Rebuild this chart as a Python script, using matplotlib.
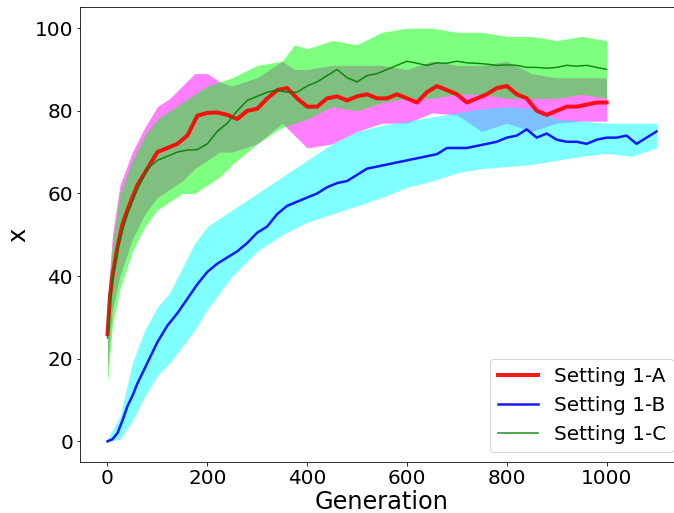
import matplotlib
matplotlib.use("Agg")
import matplotlib.pyplot as plt

gen_ac = [0, 5, 10, 20, 30, 40, 50, 60, 80, 100, 120, 140, 160, 180, 200,
          220, 240, 260, 280, 300, 320, 340, 360, 380, 400, 420, 440, 460,
          480, 500, 520, 540, 560, 580, 600, 620, 640, 660, 680, 700, 720,
          740, 760, 780, 800, 820, 840, 860, 880, 900, 920, 940, 960, 980, 1000]

mean_a = [26, 35, 40, 47, 52.5, 56, 59, 62, 66, 70, 71, 72, 74, 78.8, 79.5,
          79.6, 79, 78, 80, 80.5, 83, 85, 85.5, 83, 81, 81, 83, 83.5,
          82.5, 83.5, 84, 83, 83, 84, 83, 82, 84.5, 86, 85, 84, 82,
          83, 84, 85.5, 86, 84, 83, 80, 79, 80, 81, 81, 81.5, 82, 82]

mean_c = [25, 33, 39, 46, 51, 55, 58, 61, 66, 68, 69, 70, 70.5, 70.6, 72,
          75, 77, 80, 82.5, 83.5, 84.5, 85, 84.5, 84.5, 86, 87, 88.5, 90,
          88, 87, 88.5, 89, 90, 91, 92, 91.5, 91, 91.6, 91.5, 92, 91.6,
          91.5, 91.3, 91, 91.1, 91, 90.5, 90.5, 90.3, 90.5, 91, 90.8, 91, 90.5, 90]

gen_b = [0, 10, 20, 30, 40, 50, 60, 80, 100, 120, 140, 160, 180, 200, 220,
         240, 260, 280, 300, 320, 340, 360, 380, 400, 420, 440, 460, 480,
         500, 520, 540, 560, 580, 600, 620, 640, 660, 680, 700, 720, 740,
         760, 780, 800, 820, 840, 860, 880, 900, 920, 940, 960, 980, 1000,
         1020, 1040, 1060, 1080, 1100]

mean_b = [0, 0.5, 2, 5, 8.5, 11, 14, 19, 24, 28, 31, 34.5, 38, 41, 43,
          44.5, 46, 48, 50.5, 52, 55, 57, 58, 59, 60, 61.5, 62.5, 63,
          64.5, 66, 66.5, 67, 67.5, 68, 68.5, 69, 69.5, 71, 71, 71, 71.5,
          72, 72.5, 73.5, 74, 75.5, 73.5, 74.5, 73, 72.5, 72.5, 72, 73, 73.5,
          73.5, 74, 72, 73.5, 75]

# spread bands (upper / lower edges)
band_gen_ac = [0, 10, 25, 50, 75, 100, 125, 150, 175, 200, 225, 250, 300,
               350, 375, 400, 450, 500, 550, 600, 650, 700, 750, 800, 850,
               900, 950, 1000]
upper_a = [34, 50, 62, 70, 76, 81, 83, 86, 89, 89, 87, 86, 88,
           92, 90, 90, 91, 91, 91, 90, 92, 91, 91, 92, 89,
           88, 88, 88]
lower_a = [18, 32, 40, 49, 55, 59, 61, 63, 66, 68, 70, 70, 72,
           77, 74, 71, 72, 75, 77, 77, 79.5, 79, 75, 77, 75,
           77, 77.5, 77.5]
upper_c = [34, 48, 60, 68, 74, 78, 80, 82, 84, 86, 87, 88, 91,
           92, 96, 95, 97, 96, 99, 100, 100, 99, 99, 98, 98,
           97, 98, 97]
lower_c = [14, 28, 37, 46, 52, 56, 58, 60, 60, 62, 64, 67, 72,
           76, 77, 78, 81, 80, 82, 83, 83, 84, 84, 83, 83,
           83, 84, 83]

band_gen_b = [0, 25, 50, 75, 100, 125, 150, 175, 200, 250, 300, 350, 400,
              450, 500, 550, 600, 650, 700, 750, 800, 850, 900, 950, 1000,
              1050, 1100]
upper_b = [0.5, 6, 19, 27, 32.5, 36, 42, 48, 52, 56, 60, 64, 68,
           72, 75, 76.5, 77.5, 78.5, 79.5, 80.5, 81, 80.5, 78, 77.5, 77,
           77, 77]
lower_b = [0, 0.5, 5, 11, 16, 19, 23, 27, 32, 40, 46, 50, 53,
           55, 57, 59, 61.5, 63, 65, 66, 66.5, 67, 68, 69, 69.7,
           69, 71]

fig, ax = plt.subplots(figsize=(674 / 72, 513 / 72), dpi=72)
# the source picture is cropped on the right, so the axes run past the edge
fig.subplots_adjust(left=0.1187, right=1.0148, top=0.9854, bottom=0.0994)

ax.fill_between(band_gen_ac, lower_a, upper_a, color="magenta", alpha=0.5, lw=0)
ax.fill_between(band_gen_b, lower_b, upper_b, color="cyan", alpha=0.5, lw=0)
ax.fill_between(band_gen_ac, lower_c, upper_c, color="lime", alpha=0.5, lw=0)

ax.plot(gen_ac, mean_a, color="red", lw=4, alpha=0.9, label="Setting 1-A")
ax.plot(gen_b, mean_b, color="blue", lw=2.5, alpha=0.9, label="Setting 1-B")
ax.plot(gen_ac, mean_c, color="green", lw=1.5, alpha=0.9, label="Setting 1-C")

ax.set_xlabel("Generation", fontsize=24, labelpad=2)
ax.set_ylabel("x", fontsize=24)
ax.tick_params(labelsize=20)
ax.legend(loc="lower right", fontsize=20)

plt.savefig("out.png", dpi=72)
